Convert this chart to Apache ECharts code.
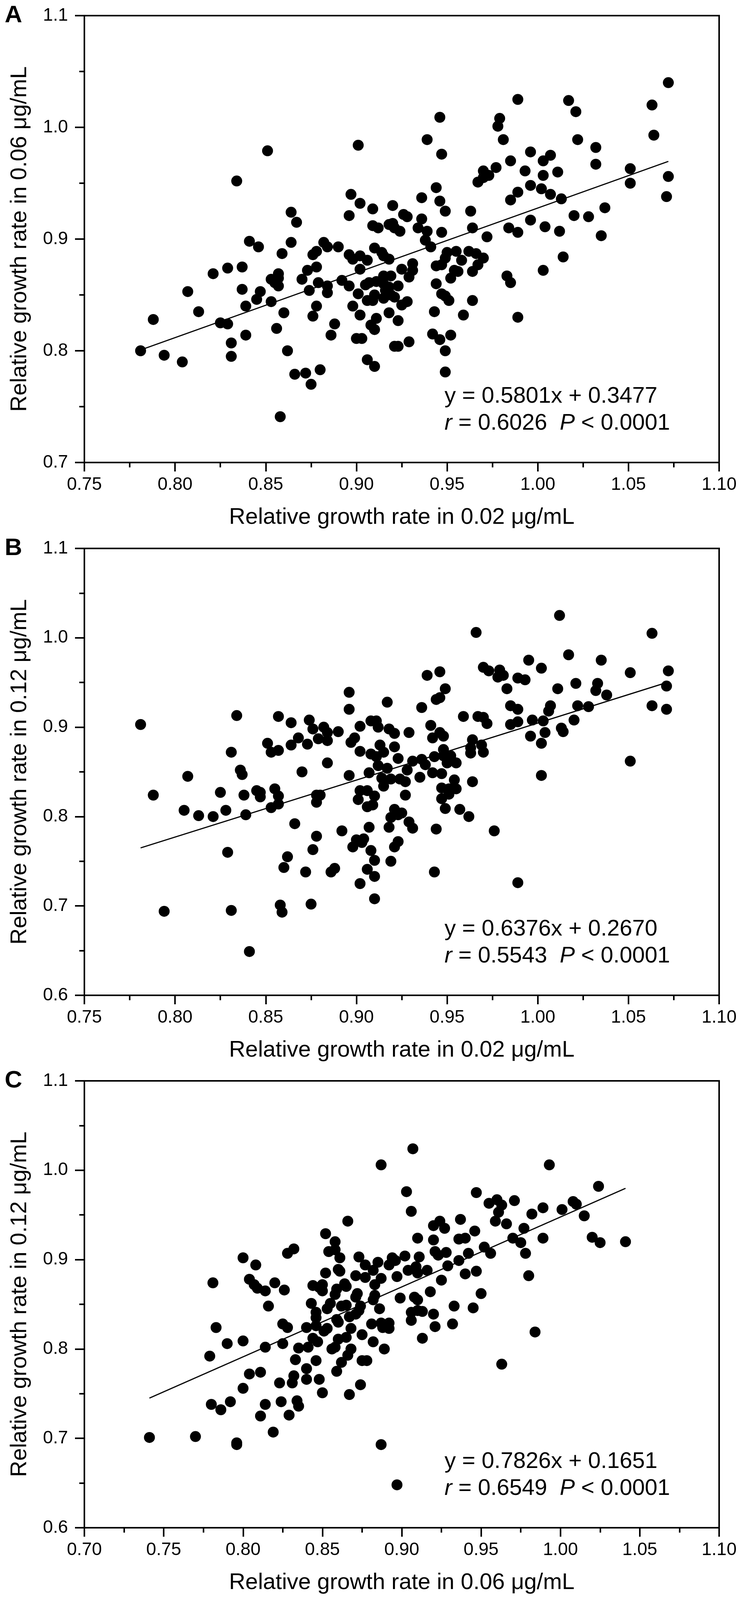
<!DOCTYPE html>
<html>
<head>
<meta charset="utf-8">
<title>Relative growth rate scatter plots</title>
<script src="https://cdn.jsdelivr.net/npm/echarts@6/dist/echarts.min.js"></script>
<style>
  html, body { margin: 0; padding: 0; background: #fff; overflow: hidden; }
  #main { width: 1897px; height: 4261px; }
</style>
</head>
<body>
<div id="main"></div>
<script>
// panel A: x = 0.02 ug/mL, y = 0.06 ug/mL
var pointsA = [
  [0.781,0.800],[0.788,0.828],[0.794,0.796],[0.804,0.790],[0.807,0.853],[0.813,0.835],[0.821,0.869],[0.825,0.825],
  [0.829,0.824],[0.829,0.874],[0.831,0.807],[0.831,0.795],[0.834,0.952],[0.837,0.875],[0.837,0.855],[0.839,0.840],
  [0.839,0.814],[0.841,0.898],[0.846,0.893],[0.845,0.846],[0.847,0.853],[0.851,0.979],[0.853,0.864],[0.853,0.844],
  [0.855,0.861],[0.857,0.869],[0.857,0.865],[0.857,0.858],[0.856,0.820],[0.858,0.741],[0.859,0.887],[0.860,0.834],
  [0.862,0.800],[0.864,0.897],[0.864,0.924],[0.867,0.915],[0.866,0.779],[0.870,0.864],[0.873,0.872],[0.872,0.780],
  [0.874,0.854],[0.875,0.770],[0.876,0.886],[0.878,0.889],[0.878,0.875],[0.876,0.831],[0.878,0.840],[0.879,0.861],
  [0.880,0.783],[0.882,0.897],[0.884,0.893],[0.884,0.858],[0.884,0.852],[0.886,0.814],[0.888,0.824],[0.890,0.893],
  [0.892,0.863],[0.896,0.886],[0.896,0.921],[0.896,0.858],[0.897,0.940],[0.898,0.882],[0.902,0.885],[0.902,0.873],
  [0.901,0.851],[0.898,0.840],[0.900,0.811],[0.903,0.811],[0.902,0.832],[0.901,0.984],[0.902,0.932],[0.906,0.881],
  [0.905,0.859],[0.907,0.861],[0.906,0.845],[0.906,0.792],[0.909,0.927],[0.909,0.912],[0.910,0.892],[0.909,0.845],
  [0.910,0.850],[0.911,0.862],[0.912,0.910],[0.914,0.888],[0.911,0.829],[0.908,0.823],[0.910,0.819],[0.910,0.786],
  [0.915,0.885],[0.918,0.882],[0.915,0.867],[0.915,0.860],[0.916,0.854],[0.915,0.847],[0.919,0.867],[0.918,0.857],
  [0.919,0.850],[0.921,0.848],[0.918,0.834],[0.918,0.913],[0.920,0.914],[0.921,0.910],[0.924,0.907],[0.920,0.930],
  [0.923,0.858],[0.925,0.841],[0.923,0.827],[0.921,0.804],[0.923,0.804],[0.925,0.873],[0.926,0.922],[0.928,0.920],
  [0.929,0.866],[0.928,0.844],[0.929,0.808],[0.931,0.878],[0.931,0.872],[0.934,0.910],[0.936,0.937],[0.936,0.918],
  [0.939,0.907],[0.938,0.899],[0.941,0.893],[0.939,0.989],[0.944,0.860],[0.943,0.835],[0.942,0.815],[0.944,0.946],
  [0.944,0.876],[0.947,0.877],[0.946,1.009],[0.947,0.976],[0.946,0.934],[0.947,0.906],[0.949,0.925],[0.947,0.851],
  [0.949,0.849],[0.951,0.845],[0.946,0.810],[0.949,0.800],[0.949,0.781],[0.952,0.814],[0.950,0.888],[0.949,0.883],
  [0.952,0.865],[0.954,0.872],[0.956,0.871],[0.955,0.889],[0.958,0.881],[0.959,0.832],[0.962,0.889],[0.963,0.925],
  [0.964,0.910],[0.964,0.871],[0.964,0.845],[0.966,0.887],[0.967,0.877],[0.970,0.883],[0.967,0.951],[0.970,0.961],
  [0.970,0.955],[0.973,0.957],[0.972,0.902],[0.977,0.964],[0.978,1.001],[0.979,1.008],[0.981,0.989],[0.985,0.970],
  [0.985,0.935],[0.989,0.942],[0.984,0.910],[0.989,0.906],[0.983,0.867],[0.985,0.861],[0.989,1.025],[0.989,0.830],
  [0.993,0.961],[0.996,0.948],[0.996,0.978],[0.996,0.917],[1.002,0.945],[1.003,0.970],[1.003,0.957],[1.004,0.911],
  [1.003,0.872],[1.007,0.975],[1.007,0.940],[1.011,0.960],[1.013,0.936],[1.012,0.907],[1.014,0.884],[1.017,1.024],
  [1.021,1.014],[1.022,0.989],[1.020,0.921],[1.028,0.920],[1.032,0.982],[1.032,0.967],[1.037,0.928],[1.035,0.903],
  [1.051,0.963],[1.051,0.950],[1.063,1.020],[1.064,0.993],[1.072,1.040],[1.072,0.956],[1.071,0.938]
];

// panel B: x = 0.02 ug/mL, y = 0.12 ug/mL
var pointsB = [
  [0.781,0.903],[0.788,0.824],[0.794,0.694],[0.805,0.807],[0.807,0.845],[0.813,0.801],[0.821,0.800],[0.825,0.827],
  [0.828,0.807],[0.829,0.760],[0.831,0.872],[0.831,0.695],[0.834,0.913],[0.836,0.852],[0.837,0.847],[0.838,0.824],
  [0.839,0.802],[0.841,0.649],[0.845,0.829],[0.847,0.827],[0.847,0.822],[0.851,0.882],[0.853,0.872],[0.853,0.810],
  [0.855,0.831],[0.857,0.823],[0.857,0.814],[0.857,0.912],[0.857,0.874],[0.860,0.743],[0.858,0.701],[0.859,0.693],
  [0.862,0.755],[0.864,0.880],[0.864,0.905],[0.866,0.792],[0.868,0.888],[0.870,0.850],[0.873,0.881],[0.872,0.738],
  [0.874,0.908],[0.876,0.898],[0.875,0.702],[0.876,0.763],[0.878,0.824],[0.878,0.816],[0.878,0.778],[0.879,0.887],
  [0.880,0.824],[0.882,0.900],[0.884,0.894],[0.884,0.885],[0.884,0.860],[0.886,0.738],[0.888,0.742],[0.890,0.895],
  [0.892,0.784],[0.896,0.939],[0.896,0.920],[0.896,0.846],[0.897,0.883],[0.899,0.888],[0.902,0.901],[0.902,0.873],
  [0.901,0.819],[0.902,0.829],[0.898,0.766],[0.900,0.774],[0.903,0.771],[0.904,0.775],[0.902,0.725],[0.906,0.829],
  [0.906,0.811],[0.907,0.849],[0.907,0.788],[0.908,0.907],[0.911,0.907],[0.912,0.900],[0.908,0.870],[0.911,0.867],
  [0.910,0.823],[0.909,0.813],[0.908,0.762],[0.910,0.751],[0.906,0.741],[0.910,0.733],[0.910,0.708],[0.913,0.880],
  [0.912,0.857],[0.915,0.872],[0.914,0.843],[0.915,0.834],[0.917,0.928],[0.918,0.898],[0.917,0.854],[0.919,0.842],
  [0.921,0.878],[0.921,0.893],[0.918,0.788],[0.919,0.799],[0.921,0.808],[0.923,0.802],[0.925,0.804],[0.919,0.750],
  [0.921,0.766],[0.923,0.772],[0.923,0.865],[0.924,0.842],[0.927,0.839],[0.927,0.824],[0.929,0.894],[0.928,0.852],
  [0.931,0.862],[0.929,0.794],[0.931,0.787],[0.935,0.844],[0.936,0.922],[0.936,0.864],[0.938,0.858],[0.939,0.958],
  [0.941,0.902],[0.942,0.849],[0.942,0.888],[0.943,0.738],[0.944,0.931],[0.944,0.786],[0.943,0.867],[0.946,0.894],
  [0.948,0.890],[0.946,0.933],[0.946,0.962],[0.949,0.943],[0.947,0.848],[0.947,0.832],[0.947,0.820],[0.949,0.809],
  [0.948,0.875],[0.948,0.868],[0.950,0.865],[0.950,0.860],[0.952,0.868],[0.951,0.831],[0.951,0.825],[0.954,0.841],
  [0.955,0.831],[0.955,0.860],[0.957,0.808],[0.959,0.912],[0.962,0.800],[0.964,0.839],[0.963,0.871],[0.964,0.886],
  [0.963,0.877],[0.966,1.006],[0.967,0.912],[0.969,0.880],[0.970,0.911],[0.970,0.872],[0.972,0.904],[0.970,0.967],
  [0.973,0.963],[0.976,0.784],[0.979,0.964],[0.978,0.956],[0.981,0.958],[0.983,0.943],[0.985,0.924],[0.985,0.903],
  [0.989,0.906],[0.989,0.920],[0.989,0.955],[0.993,0.953],[0.989,0.726],[0.995,0.975],[0.996,0.890],[0.997,0.908],
  [1.002,0.966],[1.003,0.907],[1.002,0.882],[1.002,0.846],[1.004,0.894],[1.006,0.918],[1.007,0.924],[1.011,0.943],
  [1.012,1.025],[1.013,0.899],[1.014,0.895],[1.017,0.981],[1.020,0.908],[1.021,0.949],[1.022,0.924],[1.028,0.923],
  [1.032,0.941],[1.033,0.949],[1.035,0.975],[1.038,0.936],[1.051,0.961],[1.051,0.862],[1.063,1.005],[1.063,0.924],
  [1.072,0.963],[1.071,0.946],[1.071,0.920]
];

// panel C: x = 0.06 ug/mL, y = 0.12 ug/mL
var pointsC = [
  [0.741,0.701],[0.770,0.702],[0.781,0.874],[0.779,0.792],[0.783,0.824],[0.780,0.738],[0.786,0.732],[0.790,0.806],
  [0.792,0.741],[0.796,0.695],[0.796,0.693],[0.800,0.902],[0.800,0.809],[0.800,0.756],[0.804,0.772],[0.804,0.878],
  [0.808,0.894],[0.807,0.872],[0.809,0.868],[0.811,0.774],[0.811,0.725],[0.814,0.865],[0.814,0.738],[0.814,0.802],
  [0.816,0.848],[0.820,0.874],[0.819,0.707],[0.823,0.762],[0.824,0.741],[0.825,0.806],[0.825,0.828],[0.828,0.824],
  [0.826,0.866],[0.828,0.907],[0.832,0.912],[0.829,0.726],[0.831,0.762],[0.832,0.770],[0.834,0.742],[0.835,0.736],
  [0.833,0.788],[0.835,0.801],[0.840,0.824],[0.840,0.778],[0.840,0.766],[0.841,0.802],[0.843,0.851],[0.844,0.812],
  [0.844,0.871],[0.846,0.835],[0.846,0.841],[0.846,0.826],[0.846,0.787],[0.847,0.808],[0.848,0.766],[0.848,0.869],
  [0.850,0.872],[0.850,0.865],[0.850,0.751],[0.852,0.929],[0.852,0.885],[0.851,0.820],[0.853,0.823],[0.853,0.845],
  [0.855,0.851],[0.854,0.909],[0.858,0.911],[0.858,0.920],[0.861,0.902],[0.860,0.889],[0.861,0.887],[0.858,0.861],
  [0.859,0.867],[0.859,0.833],[0.860,0.830],[0.856,0.800],[0.858,0.802],[0.860,0.811],[0.859,0.775],[0.862,0.785],
  [0.862,0.848],[0.864,0.873],[0.865,0.870],[0.865,0.849],[0.865,0.813],[0.866,0.793],[0.868,0.800],[0.866,0.943],
  [0.867,0.749],[0.867,0.836],[0.868,0.823],[0.871,0.882],[0.871,0.858],[0.872,0.862],[0.871,0.839],[0.873,0.903],
  [0.873,0.843],[0.874,0.848],[0.875,0.816],[0.874,0.760],[0.875,0.787],[0.878,0.787],[0.877,0.894],[0.877,0.880],
  [0.881,0.828],[0.882,0.888],[0.882,0.808],[0.883,0.872],[0.883,0.860],[0.882,0.855],[0.885,0.897],[0.886,0.845],
  [0.887,1.006],[0.887,0.693],[0.887,0.879],[0.887,0.829],[0.888,0.824],[0.889,0.800],[0.892,0.829],[0.892,0.823],
  [0.892,0.894],[0.894,0.902],[0.896,0.899],[0.897,0.881],[0.899,0.857],[0.897,0.648],[0.902,0.904],[0.903,0.976],
  [0.906,0.954],[0.907,1.024],[0.904,0.888],[0.906,0.841],[0.906,0.832],[0.908,0.858],[0.909,0.892],[0.910,0.924],
  [0.910,0.885],[0.910,0.855],[0.911,0.903],[0.910,0.843],[0.913,0.842],[0.913,0.812],[0.916,0.888],[0.918,0.864],
  [0.920,0.938],[0.920,0.922],[0.920,0.839],[0.921,0.825],[0.921,0.909],[0.924,0.943],[0.923,0.905],[0.927,0.935],
  [0.928,0.908],[0.925,0.877],[0.929,0.893],[0.932,0.828],[0.933,0.848],[0.936,0.923],[0.936,0.899],[0.937,0.945],
  [0.940,0.924],[0.940,0.884],[0.942,0.907],[0.945,0.846],[0.946,0.932],[0.947,0.975],[0.947,0.887],[0.950,0.862],
  [0.952,0.914],[0.956,0.907],[0.955,0.963],[0.960,0.967],[0.959,0.943],[0.961,0.953],[0.963,0.961],[0.963,0.783],
  [0.966,0.940],[0.971,0.966],[0.970,0.924],[0.975,0.919],[0.977,0.935],[0.978,0.907],[0.980,0.882],[0.982,0.951],
  [0.984,0.819],[0.989,0.924],[0.989,0.958],[0.993,1.006],[1.001,0.956],[1.008,0.965],[1.010,0.962],[1.015,0.949],
  [1.020,0.925],[1.024,0.982],[1.025,0.919],[1.041,0.920]
];

// fitted lines: [slope, intercept], drawn between first and last x
var fitA = [0.5801, 0.3477];
var fitB = [0.6376, 0.2670];
var fitC = [0.7826, 0.1651];
var fitRangeA = [0.781, 1.072];
var fitRangeB = [0.781, 1.072];
var fitRangeC = [0.741, 1.041];

// axis ranges [min, max]
var xRanges = [[0.75, 1.10], [0.75, 1.10], [0.70, 1.10]];
var yRanges = [[0.7, 1.1], [0.6, 1.1], [0.6, 1.1]];

var xNames = ['Relative growth rate in 0.02 μg/mL', 'Relative growth rate in 0.02 μg/mL', 'Relative growth rate in 0.06 μg/mL'];
var yNames = ['Relative growth rate in 0.06 μg/mL', 'Relative growth rate in 0.12 μg/mL', 'Relative growth rate in 0.12 μg/mL'];
var panelLetters = ['A', 'B', 'C'];
var eqLines = ['y = 0.5801x + 0.3477', 'y = 0.6376x + 0.2670', 'y = 0.7826x + 0.1651'];
var rValues = ['0.6026', '0.5543', '0.6549'];
var pText = '< 0.0001';

var FONT = '"Liberation Sans", Arial, Helvetica, sans-serif';

// the window can be shorter than the 4261 px figure: squeeze the vertical layout to fit
var FIG_H = 4261;
var viewH = window.innerHeight || FIG_H;
var sy = Math.min(1, viewH / FIG_H);
var el = document.getElementById('main');
el.style.height = Math.floor(FIG_H * sy) + 'px';

var gridTops = [42, 1461, 2878];
var gridH = 1190;
var gridLeft = 216, gridW = 1625;

function fitLine(fit, range) {
  return [
    [range[0], fit[0] * range[0] + fit[1]],
    [range[1], fit[0] * range[1] + fit[1]]
  ];
}

var chart = echarts.init(el, null, { renderer: 'canvas' });

var grids = [], xAxes = [], yAxes = [], series = [], graphics = [];
var allPoints = [pointsA, pointsB, pointsC];
var fits = [fitLine(fitA, fitRangeA), fitLine(fitB, fitRangeB), fitLine(fitC, fitRangeC)];

for (var i = 0; i < 3; i++) {
  var gTop = Math.round(gridTops[i] * sy), gH = Math.round(gridH * sy);
  grids.push({
    left: gridLeft, top: gTop, width: gridW, height: gH,
    show: true, borderColor: '#000', borderWidth: 4, backgroundColor: 'transparent'
  });
  xAxes.push({
    gridIndex: i, type: 'value',
    min: xRanges[i][0], max: xRanges[i][1], interval: 0.05,
    axisLine: { onZero: false, lineStyle: { color: '#000', width: 4 } },
    axisTick: { length: 24 * sy, lineStyle: { color: '#000', width: 4 } },
    minorTick: { show: true, splitNumber: 2, length: 13 * sy, lineStyle: { color: '#000', width: 4 } },
    splitLine: { show: false },
    axisLabel: {
      margin: 36 * sy, fontSize: 46, color: '#000', fontFamily: FONT,
      formatter: function (v) { return v.toFixed(2); }
    },
    name: xNames[i], nameLocation: 'middle', nameGap: 116 * sy,
    nameTextStyle: { fontSize: 58, color: '#000', fontFamily: FONT }
  });
  yAxes.push({
    gridIndex: i, type: 'value',
    min: yRanges[i][0], max: yRanges[i][1], interval: 0.1,
    axisLine: { onZero: false, lineStyle: { color: '#000', width: 4 } },
    axisTick: { length: 24, lineStyle: { color: '#000', width: 4 } },
    minorTick: { show: true, splitNumber: 2, length: 13, lineStyle: { color: '#000', width: 4 } },
    splitLine: { show: false },
    axisLabel: {
      margin: 42, fontSize: 46, color: '#000', fontFamily: FONT,
      formatter: function (v) { return v.toFixed(1); }
    },
    name: yNames[i], nameLocation: 'middle', nameGap: 136,
    nameTextStyle: { fontSize: 58, color: '#000', fontFamily: FONT }
  });
  series.push({
    type: 'scatter', xAxisIndex: i, yAxisIndex: i,
    data: allPoints[i], symbol: 'circle', symbolSize: 28,
    itemStyle: { color: '#000', opacity: 1 }, silent: true
  });
  series.push({
    type: 'line', xAxisIndex: i, yAxisIndex: i,
    data: fits[i], showSymbol: false, symbol: 'none',
    lineStyle: { color: '#000', width: 3 }, silent: true
  });

  var gBottom = gTop + gH;
  graphics.push({
    type: 'text', x: 12, y: gTop,
    style: { text: panelLetters[i], fill: '#000', font: 'bold 62px ' + FONT, verticalAlign: 'middle', align: 'left' }
  });
  graphics.push({
    type: 'text', x: 1138, y: gBottom - 176 * sy,
    style: { text: eqLines[i], fill: '#000', fontSize: 58, fontFamily: FONT, verticalAlign: 'middle', align: 'left' }
  });
  graphics.push({
    type: 'text', x: 1138, y: gBottom - 104 * sy,
    style: {
      text: '{i|r} = ' + rValues[i] + '  {i|P} ' + pText,
      fill: '#000', fontSize: 58, fontFamily: FONT, verticalAlign: 'middle', align: 'left',
      rich: { i: { fontStyle: 'italic', fontSize: 58, fontFamily: FONT, fill: '#000' } }
    }
  });
}

chart.setOption({
  backgroundColor: '#fff',
  animation: false,
  grid: grids,
  xAxis: xAxes,
  yAxis: yAxes,
  series: series,
  graphic: graphics
});
</script>
</body>
</html>
